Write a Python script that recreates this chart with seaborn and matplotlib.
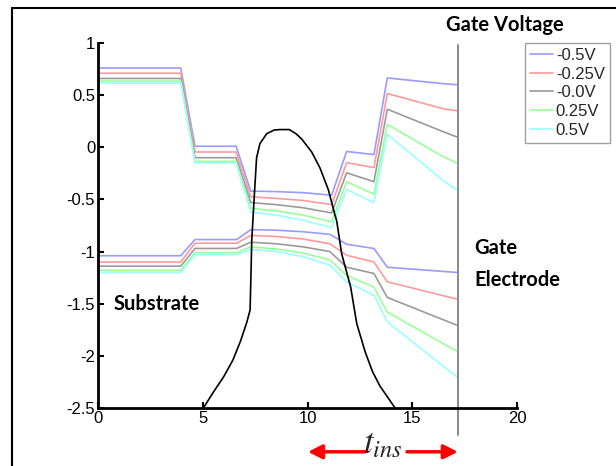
import matplotlib
matplotlib.use("Agg")
import matplotlib.pyplot as plt
import seaborn as sns
import pandas as pd
from matplotlib.lines import Line2D

# ---------------- data ----------------
legend_labels = ["-0.5V", "-0.25V", "-0.0V", "0.25V", "0.5V"]
line_colors = ["#9a9aff", "#ff9a9a", "#9a9a9a", "#9aff9a", "#9affff"]

x_upper = [0, 3.95, 4.63, 6.59, 7.29, 8.5, 9.8, 11.15, 11.87, 13.17, 13.81, 16.47, 17.12]
up_m050 = [0.76, 0.76, 0.01, 0.01, -0.42, -0.425, -0.435, -0.46, -0.04, -0.07, 0.665, 0.61, 0.60]
up_m025 = [0.71, 0.71, -0.045, -0.045, -0.475, -0.49, -0.51, -0.55, -0.147, -0.195, 0.515, 0.37, 0.35]
up_m000 = [0.66, 0.66, -0.10, -0.10, -0.53, -0.55, -0.58, -0.63, -0.245, -0.33, 0.365, 0.15, 0.10]
up_p025 = [0.635, 0.635, -0.135, -0.135, -0.585, -0.61, -0.65, -0.715, -0.33, -0.45, 0.22, -0.09, -0.15]
up_p050 = [0.615, 0.615, -0.15, -0.15, -0.62, -0.65, -0.70, -0.77, -0.405, -0.53, 0.125, -0.32, -0.405]

x_lower = [0, 3.95, 4.63, 6.62, 7.29, 8.5, 9.8, 11.07, 11.87, 13.17, 13.81, 17.12]
lo_m050 = [-1.04, -1.04, -0.885, -0.885, -0.79, -0.795, -0.81, -0.835, -0.93, -0.97, -1.15, -1.20]
lo_m025 = [-1.10, -1.10, -0.92, -0.92, -0.845, -0.855, -0.88, -0.925, -1.035, -1.10, -1.29, -1.455]
lo_m000 = [-1.14, -1.14, -0.97, -0.97, -0.91, -0.925, -0.955, -1.00, -1.15, -1.21, -1.44, -1.705]
lo_p025 = [-1.18, -1.18, -1.01, -1.01, -0.955, -0.975, -1.015, -1.08, -1.23, -1.34, -1.58, -1.955]
lo_p050 = [-1.20, -1.20, -1.03, -1.03, -0.98, -1.00, -1.05, -1.13, -1.29, -1.42, -1.675, -2.20]

x_charge = [5.03, 5.5, 6.0, 6.44, 6.8, 7.1, 7.26, 7.34, 7.45, 7.57, 7.73, 8.05, 8.4, 8.69,
            9.13, 9.45, 9.72, 10.2, 10.6, 11.0, 11.31, 11.39, 11.63, 12.06, 12.35, 12.75,
            13.1, 13.46, 14.18]
y_charge = [-2.5, -2.35, -2.2, -2.04, -1.86, -1.68, -1.56, -0.89, -0.5, -0.1, 0.035, 0.13,
            0.165, 0.17, 0.17, 0.13, 0.08, -0.045, -0.2, -0.41, -0.65, -0.70, -1.02, -1.34,
            -1.69, -1.96, -2.15, -2.29, -2.5]

x_ticks = [0, 5, 10, 15, 20]
y_ticks = [1, 0.5, 0, -0.5, -1, -1.5, -2, -2.5]
x_ticklabels = ["0", "5", "10", "15", "20"]
y_ticklabels = ["1", "0.5", "0", "-0.5", "-1", "-1.5", "-2", "-2.5"]

# ---------------- style ----------------
sns.set_theme(style="ticks")
plt.rcParams["font.family"] = ["Liberation Sans", "DejaVu Sans"]
plt.rcParams["axes.unicode_minus"] = False
plt.rcParams["mathtext.fontset"] = "stix"

fig = plt.figure(figsize=(6.16, 4.66), dpi=100)
fig.patch.set_facecolor("white")
ax = fig.add_axes([98 / 616, 1 - 408 / 466, (517 - 98) / 616, (408 - 43) / 466])
ax.set_facecolor("white")

uppers = [up_m050, up_m025, up_m000, up_p025, up_p050]
lowers = [lo_m050, lo_m025, lo_m000, lo_p025, lo_p050]
for lab, col, yu, yl in zip(legend_labels, line_colors, uppers, lowers):
    sns.lineplot(x=x_upper, y=yu, ax=ax, color=col, lw=1.2, sort=False,
                 label=lab, estimator=None)
    sns.lineplot(x=x_lower, y=yl, ax=ax, color=col, lw=1.2, sort=False,
                 label="_nolegend_", estimator=None)

sns.lineplot(x=x_charge, y=y_charge, ax=ax, color="black", lw=1.2, sort=False,
             estimator=None, label="_nolegend_")

ax.set_xlim(0, 20)
ax.set_ylim(-2.5, 1)
ax.set_xticks(x_ticks)
ax.set_xticklabels(x_ticklabels)
ax.set_yticks(y_ticks)
ax.set_yticklabels(y_ticklabels)
ax.tick_params(direction="in", length=4, width=1.5, labelsize=12, colors="black",
               pad=2)
for s in ["top", "right"]:
    ax.spines[s].set_visible(False)
for s in ["left", "bottom"]:
    ax.spines[s].set_linewidth(2)
    ax.spines[s].set_color("black")

# gate electrode boundary line
ax.plot([17.18, 17.18], [0.98, -2.76], color="#808080", lw=1.3, clip_on=False)

# legend
leg = ax.legend(loc="upper left", bbox_to_anchor=(525 / 616, 1 - 43 / 466),
                bbox_transform=fig.transFigure, borderaxespad=0, fontsize=12,
                handlelength=1.4, handletextpad=0.15, labelspacing=0.22,
                borderpad=0.3, fancybox=False, frameon=True)
leg.get_frame().set_edgecolor("#888888")
leg.get_frame().set_linewidth(1.0)

bold = dict(family=["Lato", "DejaVu Sans"], weight="bold", fontsize=14.5, color="black")
fig.text(446 / 616, 1 - 25 / 466, "Gate Voltage", ha="left", va="center", **bold)
ax.text(0.75, -1.5, "Substrate", ha="left", va="center", **bold)
fig.text(474 / 616, 1 - 248 / 466, "Gate", ha="left", va="center", **bold)
fig.text(474 / 616, 1 - 280 / 466, "Electrode", ha="left", va="center", **bold)

# t_ins with arrows
ax.annotate("", xy=(10.02, -2.92), xytext=(12.75, -2.92), xycoords="data",
            annotation_clip=False,
            arrowprops=dict(arrowstyle="-|>,head_length=0.7,head_width=0.35",
                            color="red", lw=2.5, shrinkA=0, shrinkB=0))
ax.annotate("", xy=(17.18, -2.92), xytext=(14.75, -2.92), xycoords="data",
            annotation_clip=False,
            arrowprops=dict(arrowstyle="-|>,head_length=0.7,head_width=0.35",
                            color="red", lw=2.5, shrinkA=0, shrinkB=0))
ax.text(13.6, -2.84, r"$t_{ins}$", ha="center", va="center", fontsize=25,
        clip_on=False)

# figure frame lines (top and left)
fig.add_artist(Line2D([12 / 616, 12 / 616], [0, 1 - 8 / 466], transform=fig.transFigure,
                      color="black", lw=1.5))
fig.add_artist(Line2D([12 / 616, 1], [1 - 8 / 466, 1 - 8 / 466], transform=fig.transFigure,
                      color="black", lw=1.5))

fig.savefig("out.png", dpi=100, facecolor="white")
